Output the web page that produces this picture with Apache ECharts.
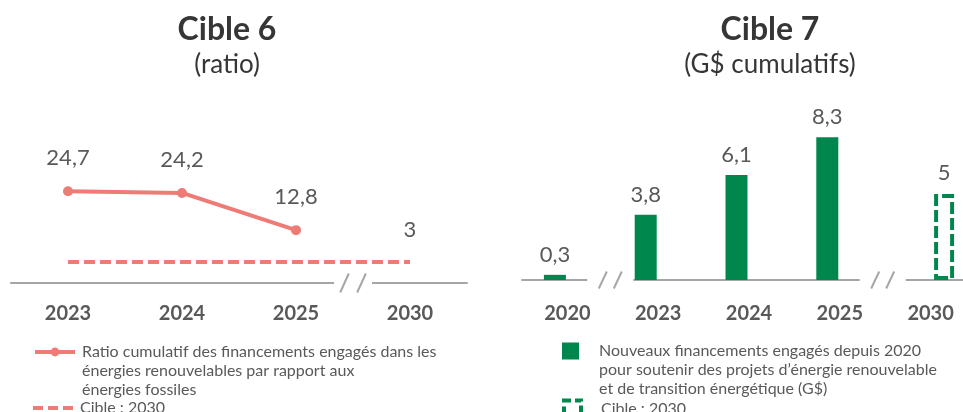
<!DOCTYPE html>
<html>
<head>
<meta charset="utf-8">
<script src="https://cdn.jsdelivr.net/npm/echarts@6/dist/echarts.min.js"></script>
<style>
  html, body { margin: 0; padding: 0; background: #ffffff; }
  #chart { width: 963px; height: 412px; }
</style>
</head>
<body>
<div id="chart"></div>
<script>
// Cible 6 : ratio des financements
const ratioYears = ['2023', '2024', '2025', '2030'];
const ratioValues = [24.7, 24.2, 12.8, null];
const ratioTarget = 3;
const ratioBreaks = [2];          // rupture d'axe entre 2025 et 2030

// Cible 7 : G$ cumulatifs
const fundYears = ['2020', '2023', '2024', '2025', '2030'];
const fundValues = [0.3, 3.8, 6.1, 8.3, null];
const fundTarget = [null, null, null, null, 5];
const fundBreaks = [0, 3];        // ruptures 2020|2023 et 2025|2030

// Two leading empty lines keep the first text line level with the legend icon
const legendText = {
  ratio: '\n\nRatio cumulatif des financements engagés dans les\nénergies renouvelables par rapport aux\nénergies fossiles',
  cible6: 'Cible : 2030',
  financements: '\n\nNouveaux financements engagés depuis 2020\npour soutenir des projets d\u2019énergie renouvelable\net de transition énergétique (G$)',
  cible7: 'Cible : 2030'
};

const RED = '#EE7B75';
const GREEN = '#00874E';
const AXIS = '#A6A6A6';
const TXT = '#595959';
const DARK = '#363636';
const FONT = 'Lato';

const fr = v => String(v).replace('.', ',');

const valueLabel = (distance) => ({
  show: true,
  position: 'top',
  distance: distance,
  fontFamily: FONT,
  fontSize: 22,
  color: TXT,
  formatter: p => fr(Array.isArray(p.value) ? p.value[1] : p.value)
});

// Axis break marks: white gap in the baseline with two slashes
function breakSeries(idx, breaks, shift, halfGap, sep, halfH, halfW) {
  return {
    type: 'custom',
    xAxisIndex: idx,
    yAxisIndex: idx,
    silent: true,
    z: 5,
    clip: false,
    data: breaks.map(i => [i, 0]),
    renderItem(params, api) {
      const i = api.value(0);
      const xa = api.coord([i, 0])[0];
      const xb = api.coord([i + 1, 0])[0];
      const cs = params.coordSys;
      const y = cs.y + cs.height;
      const cx = (xa + xb) / 2 + shift;
      const slash = dx => ({
        type: 'line',
        shape: { x1: cx + dx - halfW, y1: y + halfH, x2: cx + dx + halfW, y2: y - halfH },
        style: { stroke: AXIS, lineWidth: 2 }
      });
      return {
        type: 'group',
        children: [
          { type: 'rect', shape: { x: cx - halfGap, y: y - 3, width: halfGap * 2, height: 6 }, style: { fill: '#ffffff' } },
          slash(-sep / 2),
          slash(sep / 2)
        ]
      };
    }
  };
}

const titleStyle = (size, weight) => ({ fontFamily: FONT, fontSize: size, fontWeight: weight, color: DARK });

const legendBase = {
  orient: 'vertical',
  padding: 0,
  itemGap: 0,
  selectedMode: false,
  formatter: name => legendText[name]
};
const legendTextStyle = (padLeft) => ({
  fontFamily: FONT, fontSize: 16, lineHeight: 19, color: TXT, padding: [0, 0, 0, padLeft]
});

const chart = echarts.init(document.getElementById('chart'), null, { renderer: 'canvas' });

chart.setOption({
  animation: false,
  backgroundColor: '#ffffff',
  title: [
    { text: 'Cible 6', left: 227, top: 14, textAlign: 'center', padding: 0, textStyle: titleStyle(32, 'bold') },
    { text: '(ratio)', left: 227, top: 52, textAlign: 'center', padding: 0, textStyle: titleStyle(26, 'normal') },
    { text: 'Cible 7', left: 770, top: 14, textAlign: 'center', padding: 0, textStyle: titleStyle(32, 'bold') },
    { text: '(G$ cumulatifs)', left: 770, top: 52, textAlign: 'center', padding: 0, textStyle: titleStyle(26, 'normal') }
  ],
  legend: [
    Object.assign({}, legendBase, {
      left: 33, top: 304.5, itemWidth: 40, itemHeight: 11,
      data: ['ratio'],
      lineStyle: { width: 4 },
      textStyle: legendTextStyle(2)
    }),
    Object.assign({}, legendBase, {
      left: 33, top: 398.5, itemWidth: 40, itemHeight: 4,
      data: [{ name: 'cible6', icon: 'path://M0,0h10v4h-10z M15,0h10v4h-10z M30,0h10v4h-10z' }],
      itemStyle: { color: RED },
      textStyle: legendTextStyle(2)
    }),
    Object.assign({}, legendBase, {
      left: 562, top: 303.5, itemWidth: 17, itemHeight: 17,
      data: [{ name: 'financements', icon: 'rect' }],
      textStyle: legendTextStyle(15)
    }),
    Object.assign({}, legendBase, {
      left: 562, top: 398.5, itemWidth: 17, itemHeight: 17,
      data: [{
        name: 'cible7', icon: 'rect',
        itemStyle: { color: 'rgba(255,255,255,0)', borderColor: GREEN, borderWidth: 4, borderType: [7, 4] }
      }],
      textStyle: legendTextStyle(15)
    })
  ],
  grid: [
    { left: 11, width: 456, top: 174, height: 109, outerBoundsMode: 'none' },
    { left: 522, width: 454, top: 108, height: 172, outerBoundsMode: 'none' }
  ],
  xAxis: [
    {
      gridIndex: 0, type: 'category', data: ratioYears,
      axisTick: { show: false },
      axisLine: { onZero: false, lineStyle: { color: AXIS, width: 2 } },
      axisLabel: { interval: 0, margin: 21, fontFamily: FONT, fontSize: 20, fontWeight: 'bold', color: TXT }
    },
    {
      gridIndex: 1, type: 'category', data: fundYears,
      axisTick: { show: false },
      axisLine: { onZero: false, lineStyle: { color: AXIS, width: 2 } },
      axisLabel: { interval: 0, margin: 24, fontFamily: FONT, fontSize: 20, fontWeight: 'bold', color: TXT }
    }
  ],
  yAxis: [
    { gridIndex: 0, type: 'value', min: -3.4, max: 30, show: false },
    { gridIndex: 1, type: 'value', min: 0, max: 10, show: false }
  ],
  series: [
    {
      name: 'ratio', type: 'line', xAxisIndex: 0, yAxisIndex: 0,
      data: ratioValues,
      symbol: 'circle', symbolSize: 10,
      lineStyle: { color: RED, width: 4 },
      itemStyle: { color: RED },
      label: valueLabel(17),
      z: 3
    },
    {
      name: 'cible6', type: 'line', xAxisIndex: 0, yAxisIndex: 0,
      data: [
        { value: [ratioYears[0], ratioTarget], label: { show: false } },
        { value: [ratioYears[ratioYears.length - 1], ratioTarget] }
      ],
      symbol: 'circle', symbolSize: 1,
      lineStyle: { color: RED, width: 4, type: [11, 5] },
      itemStyle: { color: 'rgba(0,0,0,0)' },
      label: Object.assign(valueLabel(21), { formatter: () => fr(ratioTarget) }),
      z: 3
    },
    breakSeries(0, ratioBreaks, 0, 19, 17, 9.5, 4.3),
    {
      name: 'financements', type: 'bar', xAxisIndex: 1, yAxisIndex: 1,
      data: fundValues,
      barWidth: 22, barGap: '22.73%',
      itemStyle: { color: GREEN },
      label: valueLabel(9)
    },
    {
      name: 'cible7', type: 'bar', xAxisIndex: 1, yAxisIndex: 1,
      data: fundTarget,
      barWidth: 20, barGap: '22.73%',
      itemStyle: { color: 'rgba(255,255,255,0)', borderColor: GREEN, borderWidth: 4, borderType: [12, 4] },
      label: valueLabel(10)
    },
    breakSeries(1, fundBreaks, -2.5, 23, 15, 8.5, 4)
  ]
});
</script>
</body>
</html>
